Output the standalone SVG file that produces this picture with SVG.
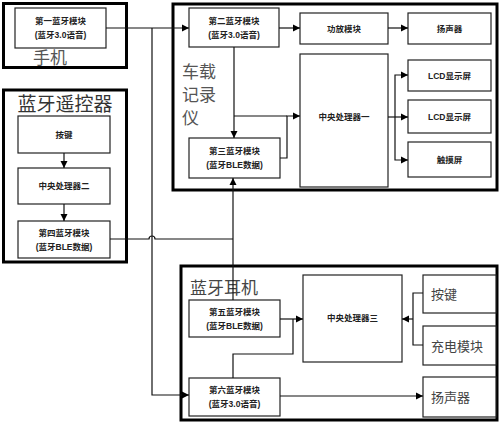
<svg xmlns="http://www.w3.org/2000/svg" width="500" height="424" viewBox="0 0 500 424">
<style>
.outer{fill:none;stroke:#000;stroke-width:3}
.box{fill:#fff;stroke:#222;stroke-width:1.2}
.lbl{font-family:"Liberation Sans","Noto Sans CJK SC",sans-serif;font-size:8.5px;font-weight:bold;fill:#222;text-anchor:middle}
.big{font-family:"Noto Sans CJK SC",sans-serif;fill:#555}
.mid{font-family:"Noto Sans CJK SC",sans-serif;font-size:13px;fill:#444}
.ln{fill:none;stroke:#111;stroke-width:1.2}
.la{fill:none;stroke:#111;stroke-width:1.2;marker-end:url(#ah)}
</style>
<defs>
<marker id="ah" markerWidth="8" markerHeight="8" refX="7" refY="4" orient="auto" markerUnits="userSpaceOnUse">
<path d="M0,0.5 L7,4 L0,7.5 Z" fill="#000"/>
</marker>
</defs>

<g id="phone">
<rect class="outer" x="3.5" y="3.5" width="123" height="64"/>
<text class="big" x="33" y="64" font-size="17">手机</text>
</g>
<g id="bt1">
<rect class="box" x="15" y="8" width="91" height="40"/>
<text class="lbl" x="60.5" y="24">第一蓝牙模块</text>
<text class="lbl" x="60.5" y="38">(蓝牙3.0语音)</text>
</g>

<g id="remote">
<rect class="outer" x="3.5" y="90" width="123" height="172"/>
<text x="65" y="111" font-size="19" text-anchor="middle" font-family="Noto Sans CJK SC,sans-serif" fill="#333">蓝牙遥控器</text>
</g>
<g id="key2">
<rect class="box" x="18" y="116" width="92" height="37"/>
<text class="lbl" x="64" y="137.5">按键</text>
</g>
<g id="cpu2">
<rect class="box" x="18" y="168" width="92" height="36"/>
<text class="lbl" x="64" y="189">中央处理器二</text>
</g>
<g id="bt4">
<rect class="box" x="18" y="221" width="92" height="37"/>
<text class="lbl" x="64" y="236">第四蓝牙模块</text>
<text class="lbl" x="64" y="250">(蓝牙BLE数据)</text>
</g>

<g id="recorder">
<rect class="outer" x="173" y="4" width="324" height="186"/>
<text class="big" x="182" y="78" font-size="17">车载</text>
<text class="big" x="182" y="101" font-size="17">记录</text>
<text class="big" x="182" y="124" font-size="17">仪</text>
</g>
<g id="bt2">
<rect class="box" x="189" y="8" width="90" height="39"/>
<text class="lbl" x="234" y="24">第二蓝牙模块</text>
<text class="lbl" x="234" y="38">(蓝牙3.0语音)</text>
</g>
<g id="amp">
<rect class="box" x="300" y="13" width="88" height="31"/>
<text class="lbl" x="344" y="31.5">功放模块</text>
</g>
<g id="spk1">
<rect class="box" x="408" y="13" width="83" height="31"/>
<text class="lbl" x="449.5" y="31.5">扬声器</text>
</g>
<g id="cpu1">
<rect class="box" x="300" y="54" width="88" height="133"/>
<text class="lbl" x="344" y="120">中央处理器一</text>
</g>
<g id="lcd1">
<rect class="box" x="408" y="60" width="83" height="31"/>
<text class="lbl" x="449.5" y="78.5">LCD显示屏</text>
</g>
<g id="lcd2">
<rect class="box" x="408" y="100" width="83" height="33"/>
<text class="lbl" x="449.5" y="119.5">LCD显示屏</text>
</g>
<g id="touch">
<rect class="box" x="408" y="142" width="83" height="35"/>
<text class="lbl" x="449.5" y="162.5">触摸屏</text>
</g>
<g id="bt3">
<rect class="box" x="189" y="138" width="91" height="40"/>
<text class="lbl" x="234.5" y="154">第三蓝牙模块</text>
<text class="lbl" x="234.5" y="168">(蓝牙BLE数据)</text>
</g>

<g id="earphone">
<rect class="outer" x="181" y="266" width="316" height="154"/>
<text x="190" y="294" font-size="17" font-family="Noto Sans CJK SC,sans-serif" fill="#444">蓝牙耳机</text>
</g>
<g id="bt5">
<rect class="box" x="189" y="300" width="91" height="37"/>
<text class="lbl" x="234.5" y="315">第五蓝牙模块</text>
<text class="lbl" x="234.5" y="329">(蓝牙BLE数据)</text>
</g>
<g id="cpu3">
<rect class="box" x="303" y="275" width="99" height="87"/>
<text class="lbl" x="352.5" y="321">中央处理器三</text>
</g>
<g id="key3">
<rect class="box" x="423" y="275" width="73" height="38"/>
<text class="mid" x="431" y="299">按键</text>
</g>
<g id="charge">
<rect class="box" x="423" y="326" width="73" height="39"/>
<text class="mid" x="431" y="351">充电模块</text>
</g>
<g id="spk2">
<rect class="box" x="423" y="377" width="73" height="40"/>
<text class="mid" x="431" y="402">扬声器</text>
</g>
<g id="bt6">
<rect class="box" x="189" y="378" width="91" height="38"/>
<text class="lbl" x="234.5" y="393">第六蓝牙模块</text>
<text class="lbl" x="234.5" y="407">(蓝牙3.0语音)</text>
</g>

<g id="connectors">
<path class="la" d="M106,28 H189"/>
<path class="la" d="M152,28 V395 H189"/>
<path class="la" d="M279,28 H300"/>
<path class="la" d="M388,28 H408"/>
<path class="la" d="M234,47 V138"/>
<path class="ln" d="M234,116 H287"/>
<path class="la" d="M280,158 H287 V116 H300"/>
<path class="ln" d="M388,117 H395"/>
<path class="la" d="M395,117 H408"/>
<path class="la" d="M395,117 V75 H408"/>
<path class="la" d="M395,117 V160 H408"/>
<path class="la" d="M64,153 V168"/>
<path class="la" d="M64,204 V221"/>
<path class="ln" d="M110,239 H149 A3,3 0 0 1 155,239 H233"/>
<path class="la" d="M233,300 V178"/>
<path class="la" d="M280,319 H303"/>
<path class="ln" d="M233,378 V354 H293 V319"/>
<path class="ln" d="M423,293 H413 V345 H423"/>
<path class="la" d="M413,319 H402"/>
<path class="la" d="M280,396 H423"/>
</g>
</svg>
